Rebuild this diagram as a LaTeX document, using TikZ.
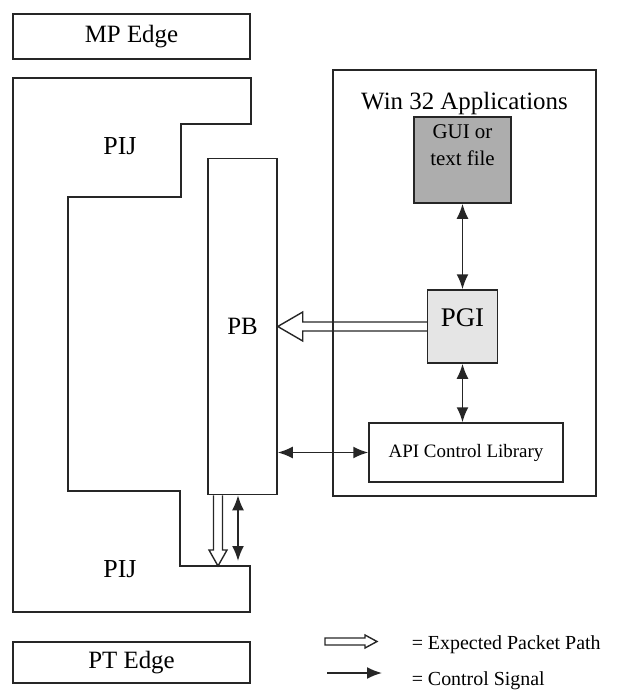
\documentclass[tikz,border=0pt]{standalone}
\usepackage{fontspec}
\setmainfont{Liberation Serif}
\usetikzlibrary{positioning, calc, arrows.meta}

\begin{document}
\begin{tikzpicture}[
    x=1bp, y=-1bp,
    line width=1.5bp,
    % Styles
    edgebox/.style={draw=black!85, minimum width=237bp, inner sep=0pt,
        font=\fontsize{25}{28}\selectfont},
    region/.style={draw=black!85},
    block/.style={draw=black!85, inner sep=0pt},
    lbl/.style={inner sep=0pt, font=\fontsize{25}{28}\selectfont},
    small/.style={inner sep=0pt, font=\fontsize{21}{27}\selectfont,
        align=center},
    keytext/.style={inner sep=0pt, anchor=base west,
        font=\fontsize{20}{24}\selectfont},
    ctrl/.style={draw=black!85, line width=1.8bp},
    both/.style={ctrl, {Latex[length=15bp, width=12bp]}-{Latex[length=15bp, width=12bp]}},
    one/.style={ctrl, -{Latex[length=15bp, width=12bp]}},
    pkt/.style={draw=black!85, line width=1.4bp, line join=miter},
]
\useasboundingbox (0,0) rectangle (617,697);

% ===== Edges =====
\node[edgebox, minimum height=45bp] (mp) at (131.5,36.5) {MP Edge};
\node[edgebox, minimum height=41bp] (pt) at (131.5,662.5) {PT Edge};

% ===== PIJ outline =====
\draw[region] (13,78) -| (251,124) -| (181,197) -| (68,491)
    -| (180,566) -| (250,612) -- (13,612) -- cycle;
\node[lbl, font=\fontsize{26}{28}\selectfont] (pijup) at (120,146) {PIJ};
\node[lbl, font=\fontsize{26}{28}\selectfont] (pijlow) at (120,569) {PIJ};

% ===== PB =====
\node[block, minimum width=69bp, minimum height=336bp] (pb)
    at (242.5,326.5) {};
\node[lbl] at (pb.center) {PB};

% ===== Win 32 side =====
\node[block, minimum width=263bp, minimum height=426bp] (win)
    at (464.5,283) {};
\node[lbl, anchor=north, below=22bp of win.north] {Win 32 Applications};

\node[block, fill=black!32, minimum width=97bp, minimum height=86bp]
    (gui) at (462.5,160) {};
\node[small, anchor=north, below=8bp of gui.north] {GUI or\\text file};

\node[block, fill=black!10, minimum width=70bp, minimum height=73bp]
    (pgi) at (462.5,326.5) {};
\node[lbl, anchor=north, below=19bp of pgi.north,
    font=\fontsize{27}{28}\selectfont] {PGI};

\node[block, minimum width=194bp, minimum height=59bp,
    font=\fontsize{19}{22}\selectfont] (api) at (466,452.5)
    {API Control Library};

% Control signals
\draw[both] (gui.south) -- (pgi.north);
\draw[both] (pgi.south) -- (pgi.south |- api.north);
\draw[both] (pb.east |- api.west) -- (api.west);

% Packet path PGI -> PB
\draw[pkt] ($(pgi.west)+(0,-4.5)$) -- ($(pb.east)+(25,-4.5)$)
    -- ++(0,-10) -- (pb.east) -- ++(25,14.5) -- ++(0,-10)
    -- ($(pgi.west)+(0,4.5)$);

% Packet path PB -> PIJ
\coordinate (drop) at (218,566);
\draw[pkt] ($(drop |- pb.south)+(-4.5,0)$) -- ($(drop)+(-4.5,-16)$)
    -- ++(-4.5,0) -- (drop) -- ++(9,-16) -- ++(-4.5,0)
    -- ($(drop |- pb.south)+(4.5,0)$);
\coordinate (ctl) at (238,561);
\draw[both] (ctl |- pb.south) -- (ctl);

% ===== Key =====
\coordinate (keypkt) at (325,641.5);
\draw[pkt] ($(keypkt)+(0,-3.5)$) -- ++(40,0) -- ++(0,-3) -- ++(12,6.5)
    -- ++(-12,6.5) -- ++(0,-3) -- ++(-40,0) -- cycle;
\node[keytext] (keyp) at (411,649) {= Expected Packet Path};

\coordinate (keyctl) at (327,673);
\draw[one] (keyctl) -- ++(55,0);
\node[keytext] (keyc) at (411,685) {= Control Signal};

\end{tikzpicture}
\end{document}
